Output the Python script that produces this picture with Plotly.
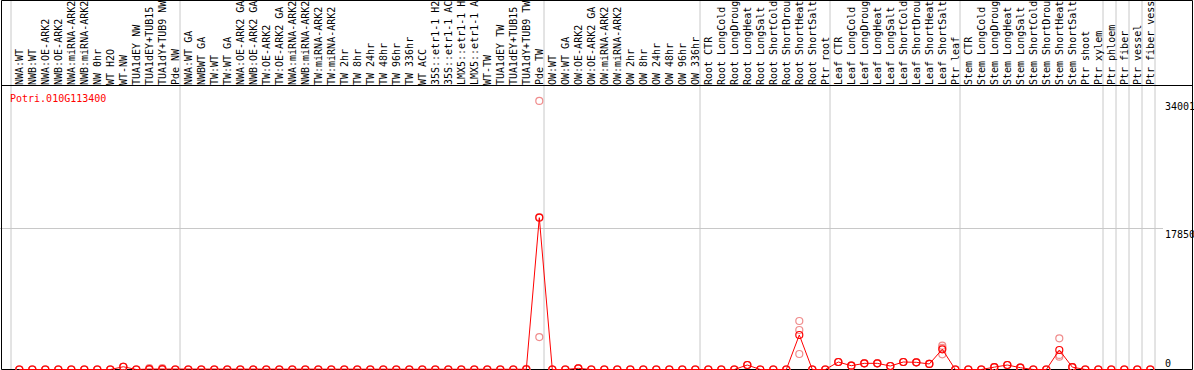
import plotly.graph_objects as go

categories = [
    "NWA:WT", "NWB:WT", "NWA:OE-ARK2", "NWB:OE-ARK2", "NWA:miRNA-ARK2", "NWB:miRNA-ARK2",
    "NW 0hr", "WT H2O", "WT-NW", "TUA1dEY NW", "TUA1dEY+TUB15", "TUA1dY+TUB9 NW", "Pde NW",
    "NWA:WT GA", "NWBWT GA", "TW:WT", "TW:WT GA", "NWA:OE-ARK2 GA", "NWB:OE-ARK2 GA",
    "TW:OE-ARK2", "TW:OE-ARK2 GA", "NWA:miRNA-ARK2", "NWB:miRNA-ARK2", "TW:miRNA-ARK2",
    "TW:miRNA-ARK2", "TW 2hr", "TW 8hr", "TW 24hr", "TW 48hr", "TW 96hr", "TW 336hr",
    "WT ACC", "35S::etr1-1 H2O", "35S::etr1-1 ACC", "LMX5::etr1-1 H2O", "LMX5::etr1-1 ACC",
    "WT-TW", "TUA1dEY TW", "TUA1dEY+TUB15", "TUA1dY+TUB9 TW", "Pde TW",
    "OW:WT", "OW:WT GA", "OW:OE-ARK2", "OW:OE-ARK2 GA", "OW:miRNA-ARK2", "OW:miRNA-ARK2",
    "OW 2hr", "OW 8hr", "OW 24hr", "OW 48hr", "OW 96hr", "OW 336hr",
    "Root CTR", "Root LongCold", "Root LongDrought", "Root LongHeat", "Root LongSalt",
    "Root ShortCold", "Root ShortDrought", "Root ShortHeat", "Root ShortSalt", "Ptr root",
    "Leaf CTR", "Leaf LongCold", "Leaf LongDrought", "Leaf LongHeat", "Leaf LongSalt",
    "Leaf ShortCold", "Leaf ShortDrought", "Leaf ShortHeat", "Leaf ShortSalt", "Ptr leaf",
    "Stem CTR", "Stem LongCold", "Stem LongDrought", "Stem LongHeat", "Stem LongSalt",
    "Stem ShortCold", "Stem ShortDrought", "Stem ShortHeat", "Stem ShortSalt", "Ptr shoot",
    "Ptr xylem", "Ptr phloem", "Ptr fiber", "Ptr vessel", "Ptr fiber vessel",
]

mean_vals = [
    0, 0, 0, 0, 0, 0, 0, 0, 350, 0, 60, 60, 0,
    0, 0, 0, 0, 0, 0, 0, 0, 0, 0, 0, 0, 0, 0, 0, 0, 0, 0, 0, 0, 0, 0, 0, 0, 0, 0, 30, 19220,
    0, 0, 150, 0, 0, 0, 0, 0, 0, 0, 0, 0,
    0, 0, 0, 570, 0, 0, 0, 4370, 0, 0,
    950, 480, 780, 780, 440, 950, 910, 700, 2560, 0,
    0, 0, 300, 570, 230, 0, 0, 2470, 300, 0,
    0, 0, 0, 0, 0,
]

rep1 = [
    0, 0, 0, 0, 0, 0, 0, 0, 350, 0, 180, 180, 0,
    0, 0, 0, 0, 0, 0, 0, 0, 0, 0, 0, 0, 0, 0, 0, 0, 0, 0, 0, 0, 0, 0, 0, 0, 0, 0, 90, 34001,
    0, 0, 150, 0, 0, 0, 0, 0, 0, 0, 0, 0,
    0, 0, 0, 570, 0, 0, 0, 6140, 0, 0,
    950, 480, 780, 780, 440, 950, 910, 700, 3010, 0,
    0, 0, 300, 570, 230, 0, 0, 3950, 300, 0,
    0, 0, 0, 0, 0,
]

rep2 = [
    0, 0, 0, 0, 0, 0, 0, 0, 350, 0, 0, 0, 0,
    0, 0, 0, 0, 0, 0, 0, 0, 0, 0, 0, 0, 0, 0, 0, 0, 0, 0, 0, 0, 0, 0, 0, 0, 0, 0, 0, 19300,
    0, 0, 150, 0, 0, 0, 0, 0, 0, 0, 0, 0,
    0, 0, 0, 570, 0, 0, 0, 5000, 0, 0,
    950, 480, 780, 780, 440, 950, 910, 700, 2750, 0,
    0, 0, 300, 570, 230, 0, 0, 1840, 300, 0,
    0, 0, 0, 0, 0,
]

rep3 = [
    0, 0, 0, 0, 0, 0, 0, 0, 350, 0, 0, 0, 0,
    0, 0, 0, 0, 0, 0, 0, 0, 0, 0, 0, 0, 0, 0, 0, 0, 0, 0, 0, 0, 0, 0, 0, 0, 0, 0, 0, 4110,
    0, 0, 150, 0, 0, 0, 0, 0, 0, 0, 0, 0,
    0, 0, 0, 570, 0, 0, 0, 1960, 0, 0,
    950, 480, 780, 780, 440, 950, 910, 700, 1920, 0,
    0, 0, 300, 570, 230, 0, 0, 1620, 300, 0,
    0, 0, 0, 0, 0,
]

gene = "Potri.010G113400"
ytick_vals = [0, 17850, 34001]
ytick_text = ["0", "17850", "34001"]
group_starts = [0, 13, 41, 53, 63, 73, 84, 85, 86, 87, 88]

# ---- layout geometry ----
W, H = 1194, 370
TOP = 86
PH = H - TOP
FONT = "DejaVu Sans Mono"
n = len(categories)
xs = list(range(n))
pitch = 13.0
x0px = 19.3
xmin = -x0px / pitch
xmax = (W - x0px) / pitch
zero_px = 369.5
ymax_val = 35701
top_px = 87.5
upp = ymax_val / (zero_px - top_px)
ylo = -(H - zero_px) * upp
yhi = (zero_px - TOP) * upp


def py(px):
    return (H - px) / PH


fig = go.Figure()

fig.add_trace(go.Scatter(
    x=xs * 3, y=rep1 + rep2 + rep3, mode="markers",
    marker=dict(symbol="circle-open", size=7, color="rgb(240,140,140)", line=dict(width=1.2)),
    hoverinfo="skip", showlegend=False,
))
fig.add_trace(go.Scatter(
    x=xs, y=mean_vals, mode="lines+markers",
    line=dict(color="#ff0000", width=1),
    marker=dict(symbol="circle-open", size=7, color="#ff0000", line=dict(width=1.2)),
    showlegend=False,
))

shapes = []
for k in group_starts:
    shapes.append(dict(type="line", xref="x", yref="paper", x0=k - 0.638, x1=k - 0.638,
                       y0=0, y1=py(0), line=dict(color="#c8c8c8", width=1), layer="below"))
shapes.append(dict(type="line", xref="paper", yref="y", x0=0, x1=1163 / W,
                   y0=ytick_vals[1], y1=ytick_vals[1], line=dict(color="#c8c8c8", width=1),
                   layer="below"))
# frame
for (xa, ya, xb, yb) in [(1.5, 0.5, 1192.5, 0.5), (1.5, 85.5, 1192.5, 85.5),
                          (1.5, 369.5, 1192.5, 369.5), (1.5, 0.5, 1.5, 369.5),
                          (1192.5, 0.5, 1192.5, 369.5)]:
    shapes.append(dict(type="line", xref="paper", yref="paper", x0=xa / W, x1=xb / W,
                       y0=py(ya), y1=py(yb), line=dict(color="black", width=1), layer="below"))

annotations = [dict(text=gene, xref="paper", yref="paper", x=8 / W, y=py(98),
                    xanchor="left", yanchor="middle", showarrow=False,
                    font=dict(family=FONT, size=10, color="#ff0000"))]
for v, t in zip(ytick_vals, ytick_text):
    annotations.append(dict(text=t, xref="paper", yref="y", x=1163 / W, y=v,
                            xanchor="left", yanchor="bottom" if v == 0 else "top",
                            yshift=-1 if v == 0 else 2,
                            showarrow=False, font=dict(family=FONT, size=10, color="black")))

fig.update_layout(
    width=W, height=H,
    margin=dict(l=0, r=0, t=TOP, b=0, pad=0, autoexpand=False),
    paper_bgcolor="white", plot_bgcolor="white",
    xaxis=dict(range=[xmin, xmax], side="top", tickmode="array", tickvals=xs,
               ticktext=categories, tickangle=-90, showgrid=False, zeroline=False,
               showline=False, ticks="", tickfont=dict(family=FONT, size=10, color="black"),
               fixedrange=True, automargin=False),
    yaxis=dict(range=[ylo, yhi], visible=False, fixedrange=True, automargin=False),
    shapes=shapes, annotations=annotations,
    font=dict(family=FONT),
)

fig.write_html(
    "out.html",
    config={"displayModeBar": False},
    post_script="document.body.style.margin='0';document.body.style.overflow='hidden';",
)
